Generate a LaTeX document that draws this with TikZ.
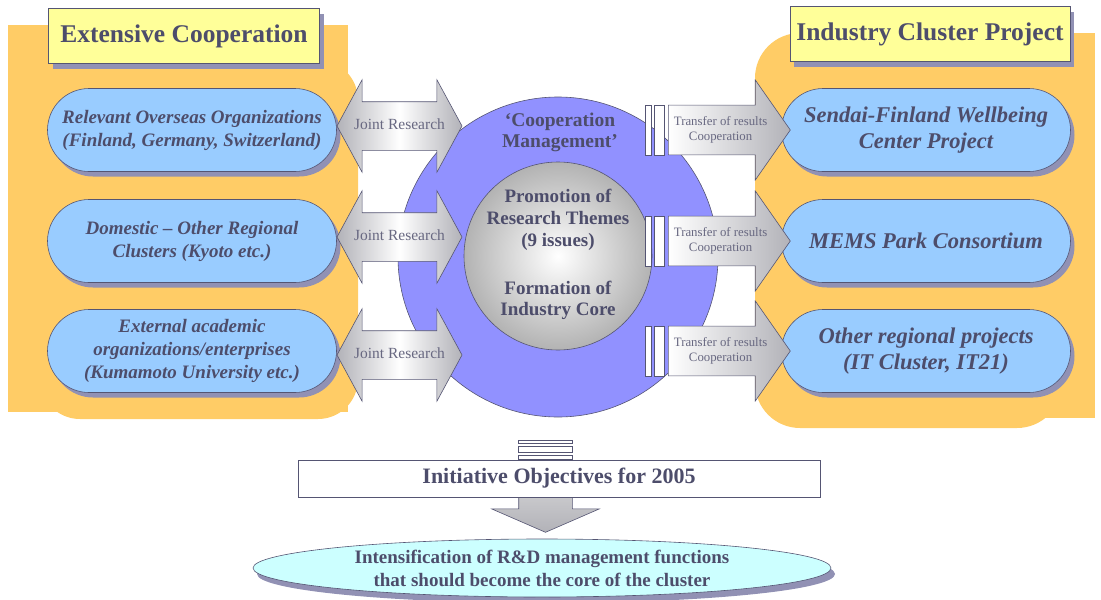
\documentclass[tikz,border=0pt]{standalone}
\usepackage{fontspec}
\setmainfont{Liberation Serif}
\usetikzlibrary{shapes.misc,shapes.arrows,shapes.geometric,shadows}

\definecolor{ink}{RGB}{77,77,107}
\definecolor{edge}{RGB}{85,85,115}
\definecolor{orangebg}{RGB}{255,204,102}
\definecolor{titlefill}{RGB}{255,255,153}
\definecolor{pillfill}{RGB}{153,204,255}
\definecolor{shade}{RGB}{145,145,180}
\definecolor{ringfill}{RGB}{145,145,255}
\definecolor{oval}{RGB}{204,255,255}
\definecolor{arrowgray}{RGB}{178,178,184}

\begin{document}
\begin{tikzpicture}[x=1pt,y=-1pt,semithick,
    shadowed/.style={drop shadow={shadow xshift=4pt,shadow yshift=-5pt,fill=shade,opacity=1}},
    title/.style={draw=edge,fill=titlefill,shadowed,minimum height=55pt,inner sep=0pt,
        text=ink,font=\fontsize{25.5}{28}\selectfont\bfseries},
    pill/.style={rounded rectangle,draw=edge,fill=pillfill,shadowed,minimum width=289pt,
        minimum height=83pt,inner sep=0pt,align=center,text=ink},
    joint/.style={double arrow,draw=edge,left color=arrowgray,right color=arrowgray,middle color=white,
        minimum height=125pt,minimum width=92pt,double arrow head extend=22pt,double arrow tip angle=123,
        inner xsep=0pt,inner ysep=17pt,text height=10pt,text depth=4pt,
        text=ink!85,font=\fontsize{15.5}{17}\selectfont},
    transfer/.style={single arrow,draw=edge,left color=white,right color=arrowgray,anchor=tail,
        minimum height=122pt,minimum width=100pt,single arrow head extend=25pt,single arrow tip angle=110,
        inner xsep=0pt,inner ysep=11pt,align=center,text=ink!85,font=\fontsize{12.8}{15}\selectfont},
    bar/.style={draw=edge,fill=white,inner sep=0pt},
    txt/.style={text=ink,align=center}]

\useasboundingbox (0,0) rectangle (1101,600);

\fill [orangebg] (8,25) rectangle (348,412);
\fill [orangebg,rounded corners=40pt] (40,60) rectangle (358,419);
\fill [orangebg] (800,33) rectangle (1095,418);
\fill [orangebg,rounded corners=45pt] (755,33) rectangle (1062,428);

\node [circle,draw=edge,fill=ringfill,minimum size=320pt,inner sep=0pt] (ring) at (558,257) {};
\node [circle,draw=edge,inner color=white,outer color=gray!60,minimum size=188pt,inner sep=0pt] (core) at (558,256) {};

\node [txt,font=\fontsize{19.5}{21}\selectfont\bfseries] (coop) at (560,132) {‘Cooperation\\Management’};
\node [txt,font=\fontsize{19}{22}\selectfont\bfseries] (promo) at (558,220) {Promotion of\\Research Themes\\(9 issues)};
\node [txt,font=\fontsize{19}{21}\selectfont\bfseries] (form) at (558,300) {Formation of\\Industry Core};

\node [title,minimum width=271pt] (ec) at (184,36) {Extensive Cooperation};
\node [title,minimum width=280pt] (icp) at (930,34) {Industry Cluster Project};

\node [pill,font=\fontsize{19}{23}\selectfont\bfseries\itshape] (l1) at (192,130) {Relevant Overseas Organizations\\(Finland, Germany, Switzerland)};
\node [pill,font=\fontsize{19}{23}\selectfont\bfseries\itshape] (l2) at (192,241) {Domestic -- Other Regional\\Clusters (Kyoto etc.)};
\node [pill,font=\fontsize{19}{23}\selectfont\bfseries\itshape] (l3) at (192,351) {External academic\\organizations/enterprises\\(Kumamoto University etc.)};

\node [pill,font=\fontsize{22.5}{26}\selectfont\bfseries\itshape] (r1) at (926,130) {Sendai-Finland Wellbeing\\Center Project};
\node [pill,font=\fontsize{22.5}{26}\selectfont\bfseries\itshape] (r2) at (926,241) {MEMS Park Consortium};
\node [pill,font=\fontsize{22.5}{26}\selectfont\bfseries\itshape] (r3) at (926,351) {Other regional projects\\(IT Cluster, IT21)};

\node [joint] (j1) at (399.5,126) {Joint Research};
\node [joint] (j2) at (399.5,237) {Joint Research};
\node [joint] (j3) at (399.5,355) {Joint Research};

\node [bar,minimum width=6pt,minimum height=50pt] (s1) at (648,130) {};
\node [bar,minimum width=10pt,minimum height=50pt] (w1) at (659,130) {};
\node [transfer] (t1) at (668,130) {Transfer of results\\Cooperation};
\node [bar,minimum width=6pt,minimum height=50pt] (s2) at (648,241) {};
\node [bar,minimum width=10pt,minimum height=50pt] (w2) at (659,241) {};
\node [transfer] (t2) at (668,241) {Transfer of results\\Cooperation};
\node [bar,minimum width=6pt,minimum height=50pt] (s3) at (648,351) {};
\node [bar,minimum width=10pt,minimum height=50pt] (w3) at (659,351) {};
\node [transfer] (t3) at (668,351) {Transfer of results\\Cooperation};

\node [single arrow,draw=edge,top color=gray!25,bottom color=arrowgray,rotate=-90,anchor=tail,
    minimum height=72pt,minimum width=107pt,single arrow head extend=27pt,single arrow tip angle=133,
    inner xsep=0pt,inner ysep=26.5pt,text height=0pt,text depth=0pt] (down) at (545.5,460) {};

\node [bar,minimum width=54pt,minimum height=3pt] (b1) at (545,441.5) {};
\node [bar,minimum width=54pt,minimum height=6pt] (b2) at (545,449) {};
\node [bar,minimum width=54pt,minimum height=4pt] (b3) at (545,457) {};

\node [draw=edge,fill=white,minimum width=522pt,minimum height=37pt,inner sep=0pt,
    text=ink,font=\fontsize{22}{24}\selectfont\bfseries] (goal) at (559,478.5) {Initiative Objectives for 2005};

\node [ellipse,draw=edge,fill=oval,minimum width=578pt,minimum height=58pt,inner sep=0pt,
    drop shadow={shadow xshift=4pt,shadow yshift=-6pt,fill=shade,opacity=1},
    txt,font=\fontsize{19}{23}\selectfont\bfseries] (aim) at (542,568) {Intensification of R\&D management functions\\that should become the core of the cluster};

\end{tikzpicture}
\end{document}
